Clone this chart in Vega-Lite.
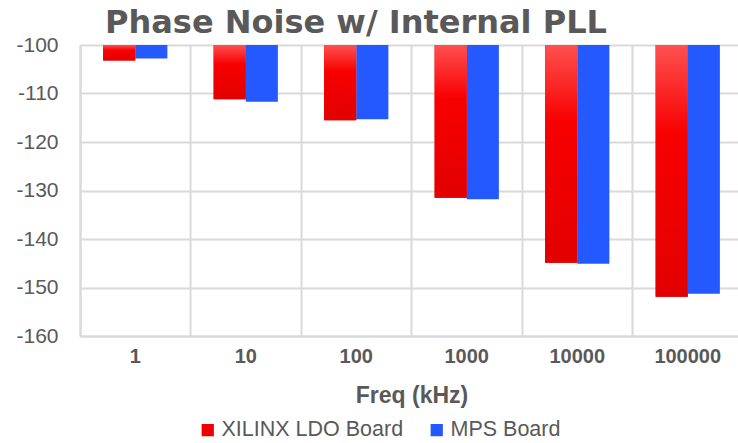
{
  "$schema": "https://vega.github.io/schema/vega-lite/v6.json",
  "autosize": "none",
  "width": 663,
  "height": 291,
  "padding": {"left": 80, "top": 45, "right": 0, "bottom": 107},
  "background": "white",
  "config": {
    "font": "Liberation Sans",
    "view": {"stroke": null}
  },
  "title": {
    "text": "Phase Noise w/ Internal PLL",
    "anchor": "start",
    "frame": "group",
    "dx": 25,
    "dy": 38,
    "offset": 0,
    "baseline": "bottom",
    "fontSize": 32,
    "fontWeight": "bold",
    "color": "#595959",
    "font": "DejaVu Sans"
  },
  "data": {
    "values": [
      {"freq": "1", "series": "XILINX LDO Board", "value": -103.2},
      {"freq": "1", "series": "MPS Board", "value": -102.8},
      {"freq": "10", "series": "XILINX LDO Board", "value": -111.2},
      {"freq": "10", "series": "MPS Board", "value": -111.7},
      {"freq": "100", "series": "XILINX LDO Board", "value": -115.5},
      {"freq": "100", "series": "MPS Board", "value": -115.3},
      {"freq": "1000", "series": "XILINX LDO Board", "value": -131.5},
      {"freq": "1000", "series": "MPS Board", "value": -131.8},
      {"freq": "10000", "series": "XILINX LDO Board", "value": -144.9},
      {"freq": "10000", "series": "MPS Board", "value": -145.1},
      {"freq": "100000", "series": "XILINX LDO Board", "value": -151.9},
      {"freq": "100000", "series": "MPS Board", "value": -151.3}
    ]
  },
  "encoding": {
    "x": {
      "field": "freq",
      "type": "nominal",
      "sort": ["1", "10", "100", "1000", "10000", "100000"],
      "scale": {"paddingInner": 0, "paddingOuter": 0},
      "axis": {
        "title": "Freq (kHz)",
        "titleFontSize": 23,
        "titleFontWeight": "bold",
        "titleColor": "#595959",
        "titlePadding": 18,
        "labelAngle": 0,
        "labelFontSize": 20,
        "labelFontWeight": "bold",
        "labelColor": "#595959",
        "labelPadding": 10,
        "ticks": false,
        "domainColor": "#d9d9d9",
        "domainWidth": 2,
        "grid": true,
        "gridColor": "#d9d9d9",
        "gridWidth": 2,
        "bandPosition": 0
      }
    },
    "xOffset": {
      "field": "series",
      "type": "nominal",
      "sort": ["XILINX LDO Board", "MPS Board"],
      "scale": {"domain": ["XILINX LDO Board", "MPS Board"], "paddingOuter": 0.72, "paddingInner": 0}
    },
    "y": {
      "field": "value",
      "type": "quantitative",
      "scale": {"domain": [-160, -100], "nice": false, "zero": false},
      "axis": {
        "title": null,
        "values": [-160, -150, -140, -130, -120, -110, -100],
        "labelExpr": "'' + datum.value",
        "labelFontSize": 21,
        "labelColor": "#595959",
        "labelPadding": 22,
        "ticks": false,
        "domain": true,
        "domainColor": "#d9d9d9",
        "domainWidth": 2,
        "gridColor": "#d9d9d9",
        "gridWidth": 2
      }
    },
    "y2": {"datum": -100}
  },
  "layer": [
    {
      "mark": {"type": "bar"},
      "encoding": {
        "color": {
          "field": "series",
          "type": "nominal",
          "sort": ["XILINX LDO Board", "MPS Board"],
          "scale": {"domain": ["XILINX LDO Board", "MPS Board"], "range": ["#ee0000", "#2459ff"]},
          "legend": {
            "title": null,
            "orient": "none",
            "direction": "horizontal",
            "legendX": 117,
            "legendY": 374,
            "symbolType": "square",
            "symbolSize": 150,
            "symbolStrokeWidth": 0,
            "labelFontSize": 21.5,
            "labelLimit": 400,
            "labelColor": "#595959",
            "labelOffset": 3,
            "columnPadding": 22
          }
        }
      }
    },
    {
      "transform": [{"filter": "datum.series === 'XILINX LDO Board'"}],
      "mark": {
        "type": "bar",
        "color": {
          "gradient": "linear",
          "x1": 0, "y1": 0, "x2": 0, "y2": 1,
          "stops": [
            {"offset": 0, "color": "#ff5050"},
            {"offset": 0.35, "color": "#f80000"},
            {"offset": 1, "color": "#e20000"}
          ]
        }
      }
    }
  ]
}
